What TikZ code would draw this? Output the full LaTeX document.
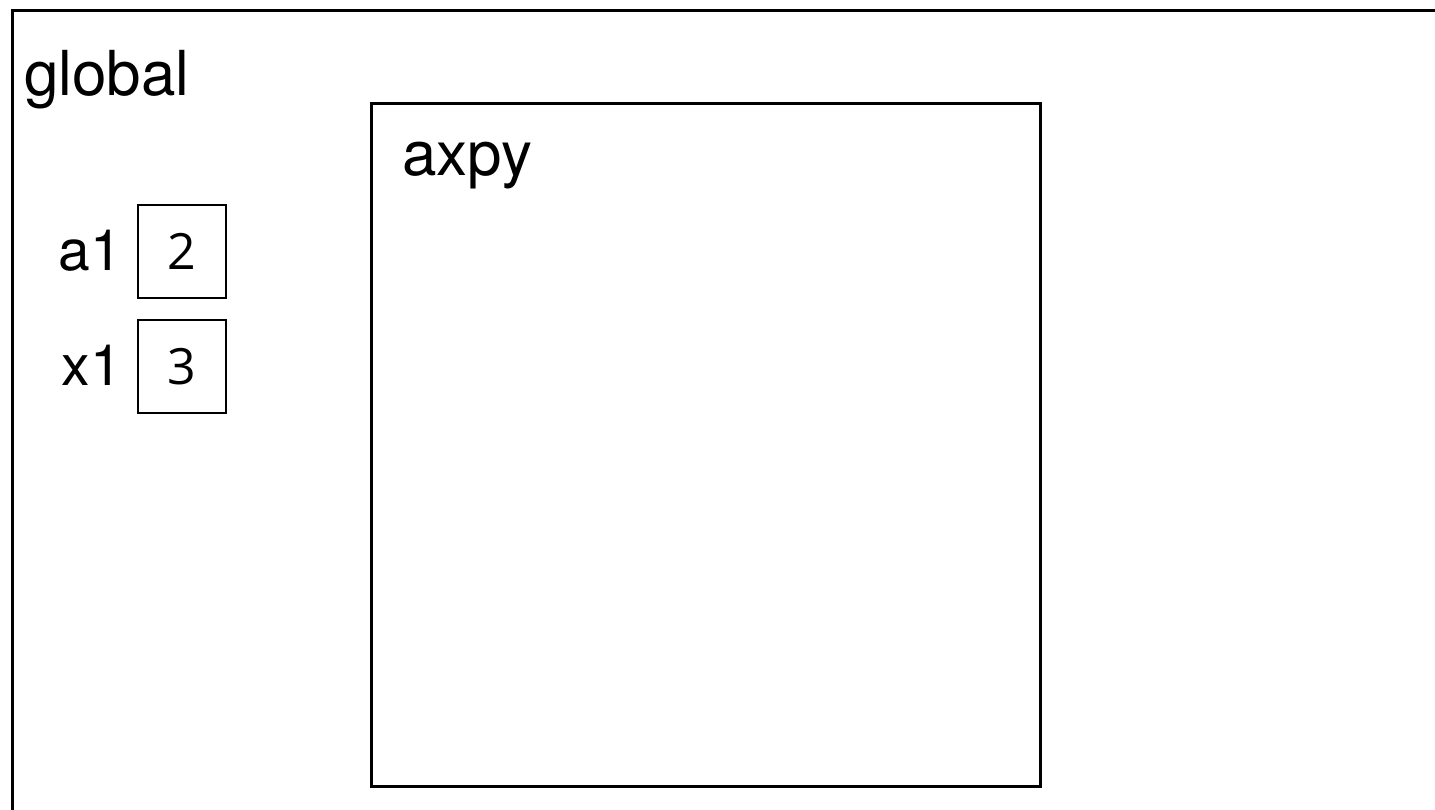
\documentclass[tikz,border=0pt]{standalone}
\usepackage{fontspec}
\setmainfont{TeX Gyre Heros}
\newfontfamily\digitfont{Open Sans}
\begin{document}
\begin{tikzpicture}[x=1pt,y=-1pt,
  lbl/.style={inner sep=0pt,anchor=base west,font=\fontsize{62}{74}\selectfont},
  varlbl/.style={inner sep=0pt,anchor=base east,font=\fontsize{57}{68}\selectfont},
  valbox/.style={draw,line width=2.2pt,minimum width=88pt,minimum height=93pt,inner sep=0pt,anchor=north west,font=\digitfont\fontsize{50}{60}\selectfont},
  frame/.style={line width=3pt}]
\useasboundingbox (0,0) rectangle (1435,809);
\draw[frame] (12,812) -- (12,10) -- (1438,10);
\node[lbl] (global) at (24,95) {global};
\node[draw,line width=2.5pt,minimum width=669pt,minimum height=683pt,inner sep=0pt,anchor=north west] (axpy) at (370,102) {};
\node[lbl] (axpylbl) at (402,175) {axpy};
\node[valbox] (a1box) at (137,204) {2};
\node[valbox] (x1box) at (137,319) {3};
\node[varlbl] (a1) at (122,270) {a1};
\node[varlbl] (x1) at (122,385) {x1};
\end{tikzpicture}
\end{document}
